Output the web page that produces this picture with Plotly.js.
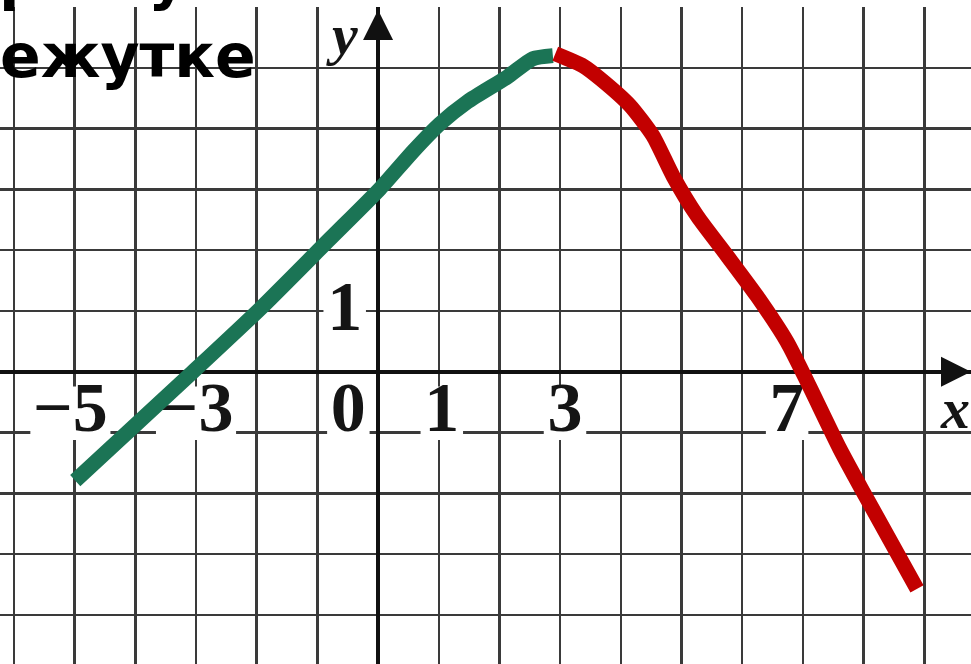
<!DOCTYPE html>
<html>
<head>
<meta charset="utf-8">
<script src="https://cdn.plot.ly/plotly-3.0.1.min.js"></script>
<style>html,body{margin:0;padding:0;background:#fff;}#chart{width:971px;height:664px;}</style>
</head>
<body>
<div id="chart"></div>
<script>
// Increasing part (green) of the function graph
const greenX = [-4.99, -3.05, -1.94, -0.79, 0.03, 0.58, 1.02, 1.47, 2.13, 2.55, 2.88];
const greenY = [-1.79, 0.00, 1.04, 2.19, 3.01, 3.63, 4.08, 4.44, 4.85, 5.15, 5.20];
// Decreasing part (red)
const redX = [2.92, 3.38, 3.66, 4.15, 4.53, 4.86, 5.26, 5.75, 6.24, 6.74, 7.07, 7.61, 7.99, 8.88];
const redY = [5.23, 5.03, 4.82, 4.38, 3.88, 3.22, 2.56, 1.91, 1.25, 0.49, -0.16, -1.27, -1.97, -3.57];
// Axis number labels
const xTickVals = [-5, -3, 0, 1, 3, 7];
const xTickText = ["\u22125", "\u22123", "0", "1", "3", "7"];
const yTickVals = [1];
const yTickText = ["1"];

const xRange = [-6.23, 9.77];
const yRange = [-4.806, 6.0];

// label placement (layout only)
const xLabelShift = [-0.07, 0.0, -0.49, 0.05, 0.08, -0.26];
const xLabelY = -0.68;
const yLabelX = -0.55;
const yLabelShift = -0.03;

const labelX = xTickVals.map((v, i) => v + xLabelShift[i]);
const labelFont = {family: 'Liberation Serif, DejaVu Serif, serif', size: 70, color: '#151515', weight: 'bold'};

const traces = [
  {x: labelX, y: xTickVals.map(() => xLabelY), mode: 'text', text: xTickText.map(t => '<b>' + t + '</b>'),
    textposition: 'middle center', textfont: labelFont, hoverinfo: 'skip', cliponaxis: false},
  {x: yTickVals.map(() => yLabelX), y: yTickVals.map(v => v + yLabelShift), mode: 'text', text: yTickText.map(t => '<b>' + t + '</b>'),
    textposition: 'middle center', textfont: labelFont, hoverinfo: 'skip', cliponaxis: false},
  {x: greenX, y: greenY, mode: 'lines', line: {color: '#1b7455', width: 15, shape: 'spline', smoothing: 0.6}, hoverinfo: 'skip'},
  {x: redX, y: redY, mode: 'lines', line: {color: '#c20000', width: 15, shape: 'spline', smoothing: 0.6}, hoverinfo: 'skip'}
];

// white patches behind the number labels (break the grid like in print)
const shapes = [];
const halfW = n => 0.31 * n + 0.04;
xTickText.forEach((t, i) => {
  const n = t.length;
  shapes.push({type: 'rect', layer: 'between', xref: 'x', yref: 'y', x0: labelX[i] - halfW(n), x1: labelX[i] + halfW(n),
    y0: xLabelY - 0.44, y1: xLabelY + 0.44, fillcolor: '#ffffff', line: {width: 0}});
});
yTickText.forEach((t, i) => {
  const n = t.length;
  shapes.push({type: 'rect', layer: 'between', xref: 'x', yref: 'y', x0: yLabelX - halfW(n), x1: yLabelX + halfW(n),
    y0: yTickVals[i] + yLabelShift - 0.44, y1: yTickVals[i] + yLabelShift + 0.44, fillcolor: '#ffffff', line: {width: 0}});
});

const annotations = [];
// axis arrows
annotations.push({x: 9.77, y: 0, ax: 9.1, ay: 0, xref: 'x', yref: 'y', axref: 'x', ayref: 'y', showarrow: true,
  arrowhead: 2, arrowsize: 2.0, arrowwidth: 3, arrowcolor: '#111', text: ''});
annotations.push({x: 0, y: 5.95, ax: 0, ay: 5.2, xref: 'x', yref: 'y', axref: 'x', ayref: 'y', showarrow: true,
  arrowhead: 2, arrowsize: 2.0, arrowwidth: 3, arrowcolor: '#111', text: ''});
// axis names
annotations.push({x: 9.5, y: -0.6, xref: 'x', yref: 'y', text: '<b>x</b>', showarrow: false,
  font: {family: 'Liberation Serif, DejaVu Serif, serif', size: 58, color: '#151515', style: 'italic'}, xanchor: 'center', yanchor: 'middle'});
annotations.push({x: -0.59, y: 5.55, xref: 'x', yref: 'y', text: '<b>y</b>', showarrow: false,
  font: {family: 'Liberation Serif, DejaVu Serif, serif', size: 58, color: '#151515', style: 'italic'}, xanchor: 'center', yanchor: 'middle'});
// cropped heading text (paper coordinates)
const headFont = {family: 'DejaVu Sans, Liberation Sans, sans-serif', size: 60, color: '#000'};
annotations.push({x: -0.002, y: 0.925, xref: 'paper', yref: 'paper', text: '<b>ежутке</b>', showarrow: false,
  font: headFont, xanchor: 'left', yanchor: 'middle'});
annotations.push({x: -0.003, y: 1.045, xref: 'paper', yref: 'paper', text: '<b>р</b>', showarrow: false,
  font: headFont, xanchor: 'left', yanchor: 'middle'});
annotations.push({x: 0.172, y: 1.045, xref: 'paper', yref: 'paper', text: '<b>у</b>', showarrow: false,
  font: headFont, xanchor: 'center', yanchor: 'middle'});

const layout = {
  width: 971, height: 664,
  margin: {l: 0, r: 0, t: 7, b: 0},
  paper_bgcolor: '#ffffff', plot_bgcolor: '#ffffff',
  showlegend: false,
  xaxis: {range: xRange, dtick: 1, tick0: 0, showgrid: true, gridcolor: '#3a3a3a', gridwidth: 2.5,
    zeroline: true, zerolinecolor: '#111', zerolinewidth: 4, showticklabels: false, ticks: '', fixedrange: true},
  yaxis: {range: yRange, dtick: 1, tick0: 0, showgrid: true, gridcolor: '#3a3a3a', gridwidth: 2.5,
    zeroline: true, zerolinecolor: '#111', zerolinewidth: 4, showticklabels: false, ticks: '', fixedrange: true},
  shapes: shapes,
  annotations: annotations
};

Plotly.newPlot('chart', traces, layout, {staticPlot: true, displayModeBar: false});
</script>
</body>
</html>
